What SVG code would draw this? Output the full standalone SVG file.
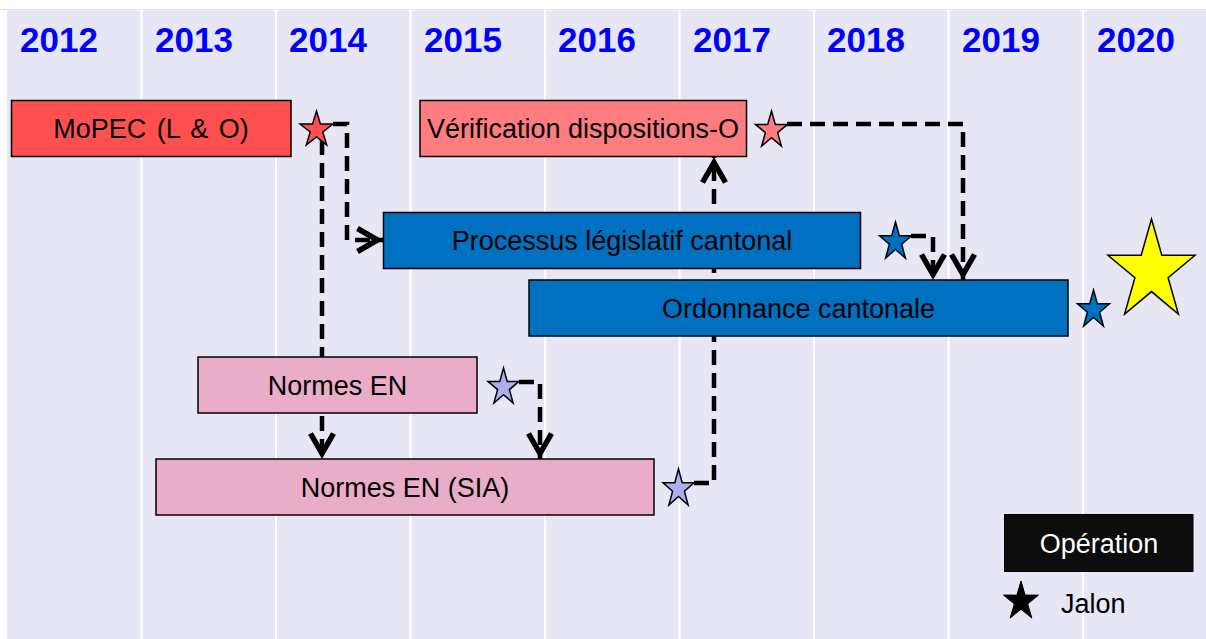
<svg xmlns="http://www.w3.org/2000/svg" width="1206" height="639" viewBox="0 0 1206 639">
<style>
.yr{font-family:"Liberation Sans",Arial,sans-serif;font-weight:bold;font-size:35px;fill:#0000FF}
.lbl{font-family:"Liberation Sans",Arial,sans-serif;font-size:27px;fill:#000;text-anchor:middle}
.box{stroke:#000;stroke-width:1.5}
.star{stroke:#000;stroke-width:1.5;stroke-linejoin:miter}
.col{stroke:#FFFFFF;stroke-width:2}
.conn{fill:none;stroke:#000;stroke-width:4.5;stroke-dasharray:15 8}
</style>
<defs>
<marker id="ah" viewBox="-24 -15 32 30" markerWidth="32" markerHeight="30" refX="5.5" refY="0" orient="auto" markerUnits="userSpaceOnUse">
<path d="M-20,-11.5 L0,0 L-20,11.5" fill="none" stroke="#000" stroke-width="5.5"/>
</marker>
</defs>
<rect x="0" y="0" width="1206" height="639" fill="#FFFFFF"/>
<line x1="0" y1="9.5" x2="1206" y2="9.5" stroke="#E4E4E4" stroke-width="1"/>
<rect x="7" y="10.5" width="1199" height="628.5" fill="#E6E6F5"/>
<g id="grid">
<line class="col" x1="141.5" y1="10" x2="141.5" y2="639"/>
<line class="col" x1="276" y1="10" x2="276" y2="639"/>
<line class="col" x1="410.5" y1="10" x2="410.5" y2="639"/>
<line class="col" x1="545" y1="10" x2="545" y2="639"/>
<line class="col" x1="679.5" y1="10" x2="679.5" y2="639"/>
<line class="col" x1="814" y1="10" x2="814" y2="639"/>
<line class="col" x1="948.5" y1="10" x2="948.5" y2="639"/>
<line class="col" x1="1083" y1="10" x2="1083" y2="639"/>
</g>
<g id="years">
<text class="yr" x="20" y="52">2012</text>
<text class="yr" x="155" y="52">2013</text>
<text class="yr" x="289" y="52">2014</text>
<text class="yr" x="424" y="52">2015</text>
<text class="yr" x="558" y="52">2016</text>
<text class="yr" x="693" y="52">2017</text>
<text class="yr" x="827" y="52">2018</text>
<text class="yr" x="962" y="52">2019</text>
<text class="yr" x="1097" y="52">2020</text>
</g>
<g id="connectors">
<path class="conn" d="M333,124 H347 V240 H383" marker-end="url(#ah)"/>
<path class="conn" d="M322,140 V357"/>
<path class="conn" d="M322,416 V459" marker-end="url(#ah)"/>
<path class="conn" d="M519,382 H540 V459" marker-end="url(#ah)"/>
<path class="conn" d="M694,483 H714 V157" marker-end="url(#ah)"/>
<path class="conn" d="M787,124 H963 V280" marker-end="url(#ah)"/>
<path class="conn" d="M911,236 H933 V280" marker-end="url(#ah)"/>
</g>
<g id="mopec">
<rect class="box" x="11.5" y="100.5" width="279.5" height="56" fill="#FF5050"/>
<text class="lbl" x="151" y="138.4" style="word-spacing:3px">MoPEC (L &amp; O)</text>
</g>
<g id="verification">
<rect class="box" x="420" y="100.5" width="326.5" height="56" fill="#FF7C80"/>
<text class="lbl" x="583" y="138.4">Vérification dispositions-O</text>
</g>
<g id="processus">
<rect class="box" x="383.5" y="212.5" width="477" height="56" fill="#0070C0"/>
<text class="lbl" x="622" y="250.2">Processus législatif cantonal</text>
</g>
<g id="ordonnance">
<rect class="box" x="529" y="280" width="539" height="56" fill="#0070C0"/>
<text class="lbl" x="798.5" y="317.7">Ordonnance cantonale</text>
</g>
<g id="normes-en">
<rect class="box" x="198" y="357" width="279" height="56" fill="#EAADC8"/>
<text class="lbl" x="337.5" y="394.7">Normes EN</text>
</g>
<g id="normes-sia">
<rect class="box" x="156" y="459" width="498" height="56" fill="#EAADC8"/>
<text class="lbl" x="405" y="496.7">Normes EN (SIA)</text>
</g>
<g id="star-mopec">
<polygon class="star" fill="#FF5050" points="316.5,111 320.4,124 333,124 322.8,132 326.7,145 316.5,137 306.3,145 310.2,132 300,124 312.6,124"/>
</g>
<g id="star-verification">
<polygon class="star" fill="#FF7C80" points="771.5,111 775.3,124.4 787.5,124.4 777.6,132.6 781.4,146 771.5,137.7 761.6,146 765.4,132.6 755.5,124.4 767.7,124.4"/>
</g>
<g id="star-processus">
<polygon class="star" fill="#0070C0" points="895.5,222 899.3,235.8 911.5,235.8 901.6,244.2 905.4,258 895.5,249.5 885.6,258 889.4,244.2 879.5,235.8 891.7,235.8"/>
</g>
<g id="star-ordonnance">
<polygon class="star" fill="#0070C0" points="1093.5,290 1097.3,303.8 1109.5,303.8 1099.6,312.2 1103.4,326 1093.5,317.5 1083.6,326 1087.4,312.2 1077.5,303.8 1089.7,303.8"/>
</g>
<g id="star-final">
<polygon class="star" fill="#FFFF00" points="1151.5,219 1161.8,255.3 1195,255.3 1168.1,277.7 1178.4,314 1151.5,291.6 1124.6,314 1134.9,277.7 1108,255.3 1141.2,255.3"/>
</g>
<g id="star-normes-en">
<polygon class="star" fill="#AEAEEE" points="503.5,368 507.2,381.4 519,381.4 509.4,389.6 513.1,403 503.5,394.7 493.9,403 497.6,389.6 488,381.4 499.8,381.4"/>
</g>
<g id="star-normes-sia">
<polygon class="star" fill="#AEAEEE" points="678.5,469 682.2,482.8 694,482.8 684.4,491.2 688.1,505 678.5,496.5 668.9,505 672.6,491.2 663,482.8 674.8,482.8"/>
</g>
<g id="legend">
<rect x="1004.5" y="514.5" width="188.5" height="57" fill="#0D0D0D" stroke="#000" stroke-width="1"/>
<text class="lbl" x="1099" y="552.7" style="fill:#FFFFFF">Opération</text>
<polygon fill="#000" stroke="#000" stroke-width="1" points="1021,581 1025.1,595.1 1038.5,595.1 1027.7,603.9 1031.8,618 1021,609.3 1010.2,618 1014.3,603.9 1003.5,595.1 1016.9,595.1"/>
<text x="1061" y="613" style="font-family:'Liberation Sans',Arial,sans-serif;font-size:27px;fill:#000">Jalon</text>
</g>
</svg>
